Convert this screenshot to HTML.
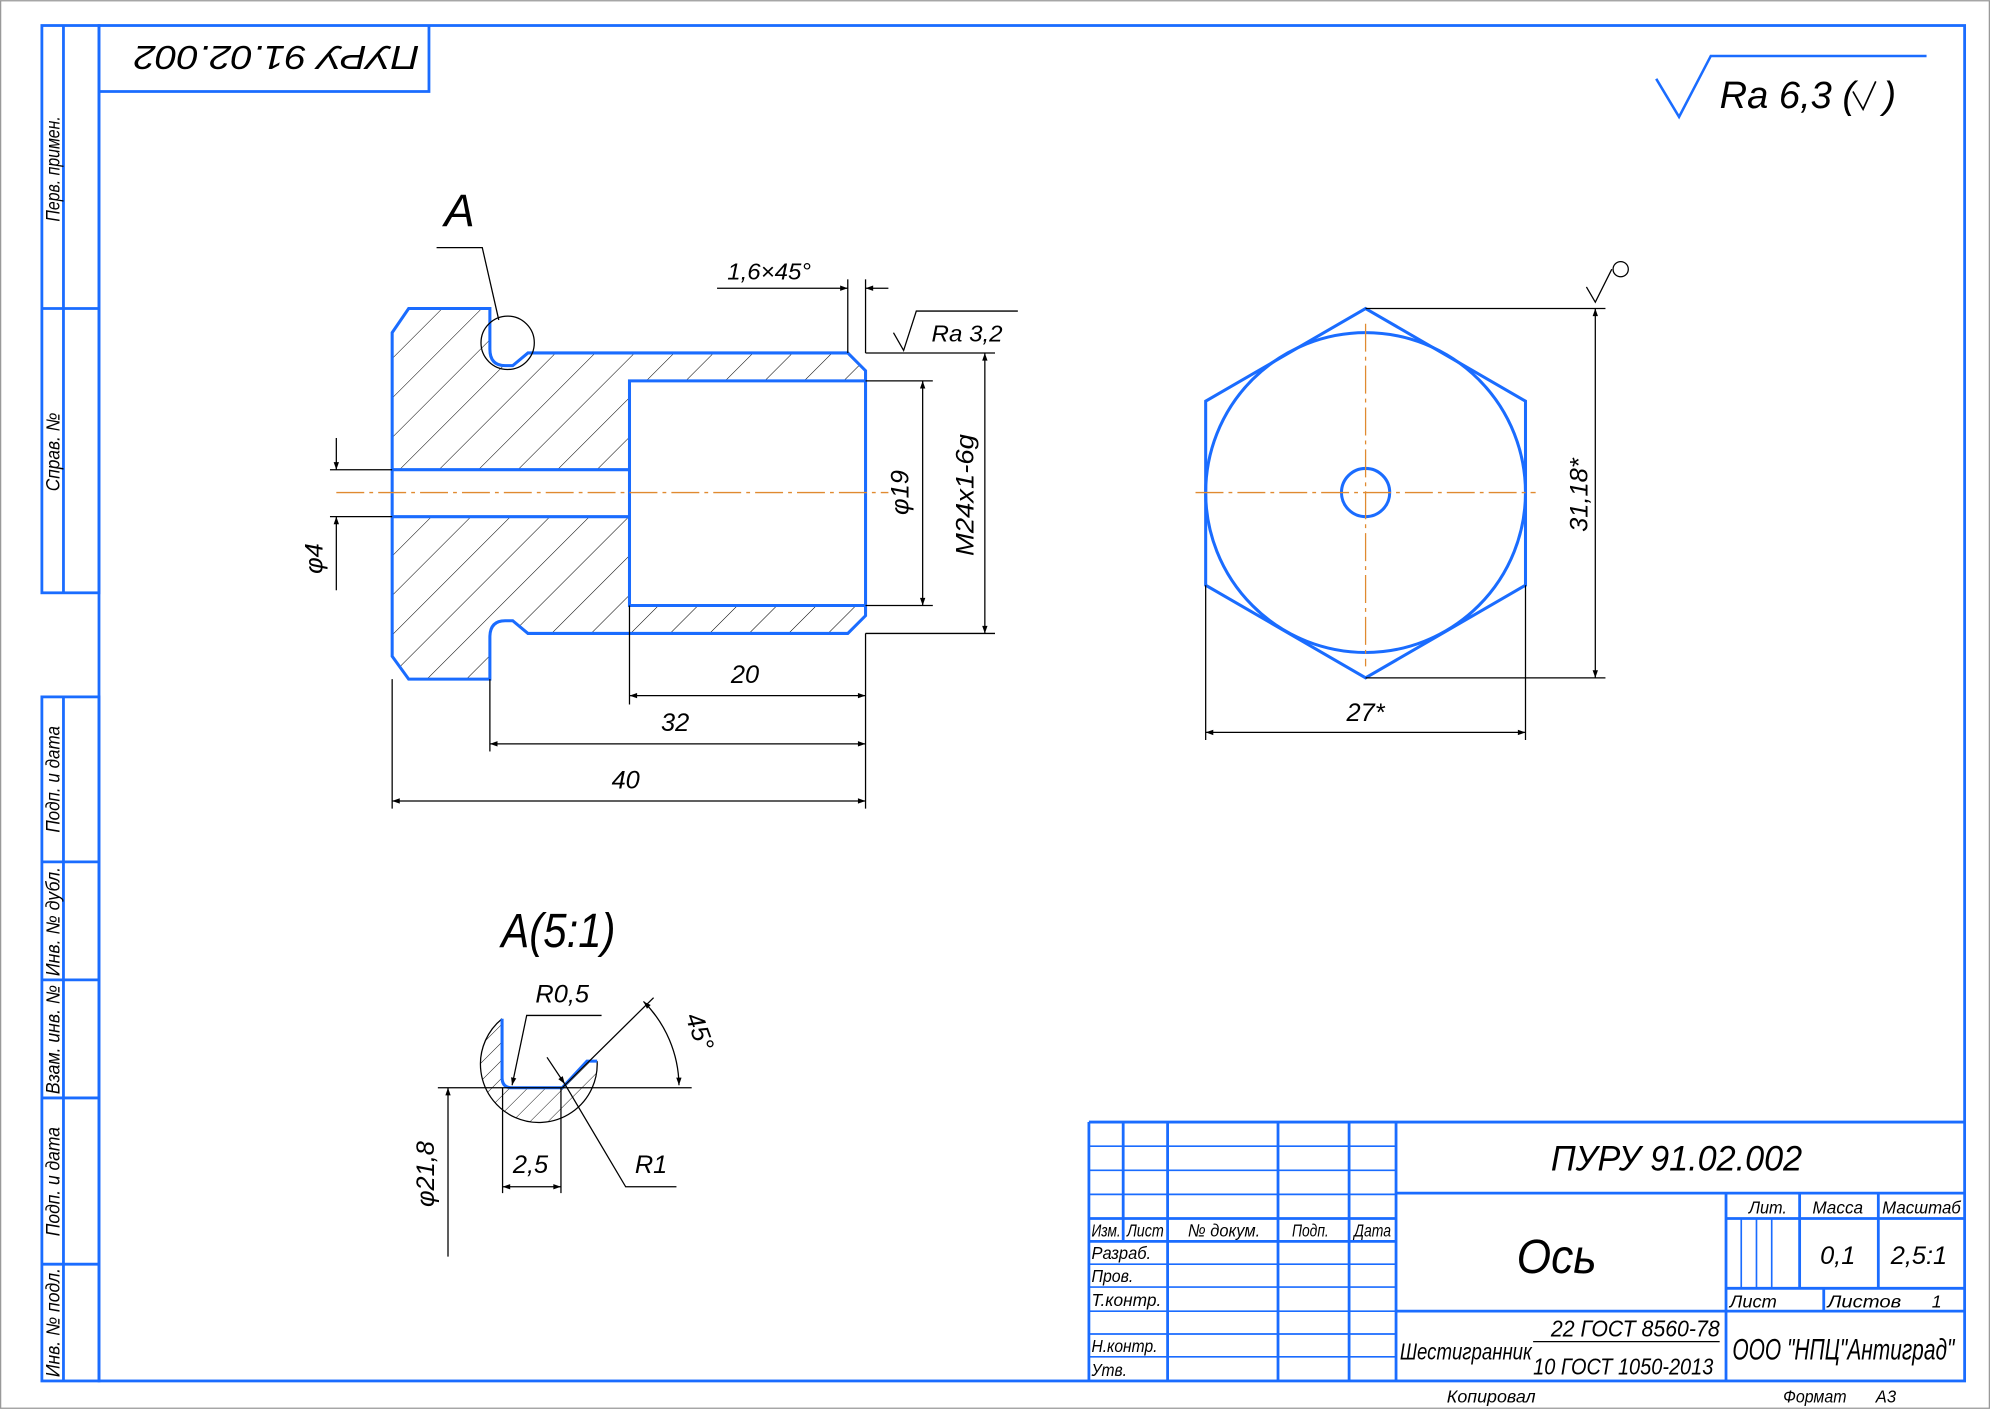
<!DOCTYPE html>
<html><head><meta charset="utf-8"><style>
html,body{margin:0;padding:0;background:#fff}
svg{display:block}
text{font-family:"Liberation Sans",sans-serif;font-style:italic;fill:#000}
</style></head><body>
<svg width="1990" height="1409" viewBox="0 0 1568 1110" xmlns="http://www.w3.org/2000/svg">
<defs>
<pattern id="h" patternUnits="userSpaceOnUse" width="22" height="22" patternTransform="rotate(45)">
<line x1="0" y1="0" x2="0" y2="22" stroke="#000" stroke-width="0.8"/>
</pattern>
<pattern id="h2" patternUnits="userSpaceOnUse" width="10" height="10" patternTransform="rotate(45)">
<line x1="0" y1="0" x2="0" y2="10" stroke="#000" stroke-width="0.7"/>
</pattern>
<marker id="a" viewBox="0 0 10 10" refX="10" refY="5" markerWidth="10" markerHeight="6" orient="auto-start-reverse" markerUnits="userSpaceOnUse"><path d="M0,1.5 L10,5 L0,8.5 z" fill="#000"/></marker>
</defs>
<rect x="0.5" y="0.5" width="1567" height="1109" fill="none" stroke="#999" stroke-width="1"/>
<g stroke="#1a6cff" stroke-width="2.2" fill="none">
<rect x="78" y="20" width="1470" height="1068"/>
<rect x="33" y="20" width="45" height="447"/>
<line x1="50" y1="20" x2="50" y2="467"/><line x1="33" y1="243" x2="78" y2="243"/>
<rect x="33" y="549" width="45" height="539"/>
<line x1="50" y1="549" x2="50" y2="1088"/>
<line x1="33" y1="679" x2="78" y2="679"/><line x1="33" y1="772" x2="78" y2="772"/><line x1="33" y1="865" x2="78" y2="865"/><line x1="33" y1="996" x2="78" y2="996"/>
<polyline points="78,72 338,72 338,20"/>
</g>
<g font-size="15" lengthAdjust="spacingAndGlyphs">
<text transform="translate(47,133) rotate(-90)" text-anchor="middle" textLength="83" lengthAdjust="spacingAndGlyphs">Перв. примен.</text>
<text transform="translate(47,356) rotate(-90)" text-anchor="middle" textLength="62" lengthAdjust="spacingAndGlyphs">Справ. №</text>
<text transform="translate(47,614) rotate(-90)" text-anchor="middle" textLength="84" lengthAdjust="spacingAndGlyphs">Подп. и дата</text>
<text transform="translate(47,726) rotate(-90)" text-anchor="middle" textLength="86" lengthAdjust="spacingAndGlyphs">Инв. № дубл.</text>
<text transform="translate(47,819) rotate(-90)" text-anchor="middle" textLength="86" lengthAdjust="spacingAndGlyphs">Взам. инв. №</text>
<text transform="translate(47,931) rotate(-90)" text-anchor="middle" textLength="86" lengthAdjust="spacingAndGlyphs">Подп. и дата</text>
<text transform="translate(47,1042) rotate(-90)" text-anchor="middle" textLength="86" lengthAdjust="spacingAndGlyphs">Инв. № подл.</text>
</g>
<text transform="translate(218,36) rotate(180)" text-anchor="middle" font-size="26" textLength="225" lengthAdjust="spacingAndGlyphs">ПУРУ 91.02.002</text>
<!-- top roughness -->
<polyline points="1305,62 1323,92 1348,44 1518,44" fill="none" stroke="#1a6cff" stroke-width="2"/>
<text x="1355" y="85" font-size="30">Ra 6,3 (</text>
<polyline points="1460,72 1468,86 1478,64" fill="none" stroke="#000" stroke-width="1.3"/>
<text x="1484" y="85" font-size="30">)</text>

<!-- main view -->
<path fill="url(#h)" fill-rule="evenodd" stroke="none" d="M309,262 L322,243 L386,243 L386,275 Q386,288 398,288 L404,288 L416,278 L668,278 L682,292 L682,485 L668,499 L416,499 L404,489 L398,489 Q386,489 386,502 L386,535 L322,535 L309,517 Z"/>
<rect x="496" y="300" width="186" height="177" fill="#fff"/>
<rect x="309" y="370" width="187" height="37" fill="#fff"/>
<g stroke="#1a6cff" stroke-width="2.4" fill="none">
<path d="M309,262 L322,243 L386,243 L386,275 Q386,288 398,288 L404,288 L416,278 L668,278 L682,292 L682,485 L668,499 L416,499 L404,489 L398,489 Q386,489 386,502 L386,535 L322,535 L309,517 Z"/>
<polyline points="682,300 496,300 496,477 682,477"/>
<line x1="309" y1="370" x2="496" y2="370"/><line x1="309" y1="407" x2="496" y2="407"/>
</g>
<line x1="265" y1="388" x2="700" y2="388" stroke="#e08a30" stroke-width="1" stroke-dasharray="22,4,3,4"/>
<circle cx="400" cy="270" r="21" fill="none" stroke="#000" stroke-width="1"/>
<polyline points="344,195 380,195 393,252" fill="none" stroke="#000" stroke-width="1"/>
<text x="362" y="178" font-size="36" font-style="normal" text-anchor="middle">A</text>
<g stroke="#000" stroke-width="1" fill="none">
<line x1="260" y1="370" x2="309" y2="370"/><line x1="260" y1="407" x2="309" y2="407"/>
<line x1="265" y1="345" x2="265" y2="370" marker-end="url(#a)"/>
<line x1="265" y1="465" x2="265" y2="407" marker-end="url(#a)"/>
<line x1="682" y1="300" x2="735" y2="300"/><line x1="682" y1="477" x2="735" y2="477"/>
<line x1="727" y1="300" x2="727" y2="477" marker-start="url(#a)" marker-end="url(#a)"/>
<line x1="682" y1="278" x2="784" y2="278"/><line x1="682" y1="499" x2="784" y2="499"/>
<line x1="776" y1="278" x2="776" y2="499" marker-start="url(#a)" marker-end="url(#a)"/>
<line x1="496" y1="477" x2="496" y2="555"/><line x1="386" y1="535" x2="386" y2="592"/>
<line x1="309" y1="535" x2="309" y2="637"/><line x1="682" y1="499" x2="682" y2="637"/>
<line x1="496" y1="548" x2="682" y2="548" marker-start="url(#a)" marker-end="url(#a)"/>
<line x1="386" y1="586" x2="682" y2="586" marker-start="url(#a)" marker-end="url(#a)"/>
<line x1="309" y1="631" x2="682" y2="631" marker-start="url(#a)" marker-end="url(#a)"/>
<line x1="668" y1="220" x2="668" y2="278"/><line x1="682" y1="220" x2="682" y2="278"/>
<line x1="565" y1="227" x2="668" y2="227" marker-end="url(#a)"/>
<line x1="700" y1="227" x2="682" y2="227" marker-end="url(#a)"/>
<polyline points="704,262 712,276 722,245 802,245"/>
</g>
<text x="573" y="220" font-size="18" textLength="66" lengthAdjust="spacingAndGlyphs">1,6×45°</text>
<text x="734" y="269" font-size="18" textLength="56" lengthAdjust="spacingAndGlyphs">Ra 3,2</text>
<text transform="translate(254,440) rotate(-90)" text-anchor="middle" font-size="20">φ4</text>
<text transform="translate(716,388) rotate(-90)" text-anchor="middle" font-size="20">φ19</text>
<text transform="translate(767,390) rotate(-90)" text-anchor="middle" font-size="20" textLength="96" lengthAdjust="spacingAndGlyphs">M24x1-6g</text>
<text x="587" y="538" text-anchor="middle" font-size="20">20</text>
<text x="532" y="576" text-anchor="middle" font-size="20">32</text>
<text x="493" y="621" text-anchor="middle" font-size="20">40</text>

<!-- hex view -->
<g stroke="#1a6cff" stroke-width="2.4" fill="none">
<polygon points="1076,243 1202,316 1202,461 1076,534 950,461 950,316"/>
<circle cx="1076" cy="388" r="126"/>
<circle cx="1076" cy="388" r="19"/>
</g>
<g stroke="#e08a30" stroke-width="1" stroke-dasharray="22,4,3,4">
<line x1="942" y1="388" x2="1210" y2="388"/><line x1="1076" y1="255" x2="1076" y2="525"/>
</g>
<g stroke="#000" stroke-width="1" fill="none">
<line x1="1076" y1="243" x2="1265" y2="243"/><line x1="1076" y1="534" x2="1265" y2="534"/>
<line x1="1257" y1="243" x2="1257" y2="534" marker-start="url(#a)" marker-end="url(#a)"/>
<line x1="950" y1="461" x2="950" y2="583"/><line x1="1202" y1="461" x2="1202" y2="583"/>
<line x1="950" y1="577" x2="1202" y2="577" marker-start="url(#a)" marker-end="url(#a)"/>
<polyline points="1250,226 1257,238 1270,212"/>
<circle cx="1277" cy="212" r="6"/>
</g>
<text transform="translate(1251,390) rotate(-90)" text-anchor="middle" font-size="20" textLength="58" lengthAdjust="spacingAndGlyphs">31,18*</text>
<text x="1076" y="568" text-anchor="middle" font-size="20">27*</text>

<!-- detail A -->
<text x="440" y="746" text-anchor="middle" font-size="38" font-style="normal" textLength="90" lengthAdjust="spacingAndGlyphs">A(5:1)</text>
<path d="M395.6,802.6 L395.6,849 Q395.6,857 403.5,857 L443,857 L462.5,836 L470.5,836 A46,46 0 1 1 395.6,802.6 Z" fill="url(#h2)" stroke="none"/>
<path d="M470.5,836 A46,46 0 1 1 395.6,802.6" fill="none" stroke="#000" stroke-width="1"/>
<path d="M395.6,802.6 L395.6,849 Q395.6,857 403.5,857 L443,857 L462.5,836 L470.5,836" fill="none" stroke="#1a6cff" stroke-width="2.4"/>
<g stroke="#000" stroke-width="1" fill="none">
<polyline points="474,800 415,800 403.5,855" marker-end="url(#a)"/>
<line x1="345" y1="857" x2="545" y2="857"/>
<line x1="443" y1="857" x2="515" y2="786"/>
<path d="M507,789 A95,95 0 0 1 535,855" marker-start="url(#a)" marker-end="url(#a)"/>
<line x1="353" y1="990" x2="353" y2="857" marker-end="url(#a)"/>
<line x1="396" y1="857" x2="396" y2="940"/><line x1="442" y1="857" x2="442" y2="940"/>
<line x1="396" y1="935" x2="442" y2="935" marker-start="url(#a)" marker-end="url(#a)"/>
<line x1="431" y1="833" x2="445" y2="854" marker-end="url(#a)"/>
<polyline points="445,854 493,935 533,935"/>
</g>
<text x="443" y="790" text-anchor="middle" font-size="20">R0,5</text>
<text transform="translate(545,815) rotate(70)" text-anchor="middle" font-size="20">45°</text>
<text transform="translate(342,925) rotate(-90)" text-anchor="middle" font-size="20">φ21,8</text>
<text x="418" y="924" text-anchor="middle" font-size="20">2,5</text>
<text x="513" y="924" text-anchor="middle" font-size="20">R1</text>

<!-- title block -->
<g stroke="#1a6cff" fill="none">
<g stroke-width="2.2">
<line x1="858" y1="884" x2="1548" y2="884"/>
<line x1="858" y1="884" x2="858" y2="1088"/>
<line x1="885" y1="884" x2="885" y2="978"/><line x1="920" y1="884" x2="920" y2="1088"/>
<line x1="1007" y1="884" x2="1007" y2="1088"/><line x1="1063" y1="884" x2="1063" y2="1088"/>
<line x1="1100" y1="884" x2="1100" y2="1088"/>
<line x1="858" y1="960" x2="1100" y2="960"/><line x1="858" y1="978" x2="1100" y2="978"/>
<line x1="1100" y1="940" x2="1548" y2="940"/><line x1="1100" y1="1033" x2="1548" y2="1033"/>
<line x1="1360" y1="940" x2="1360" y2="1088"/>
<line x1="1418" y1="940" x2="1418" y2="1015"/><line x1="1480" y1="940" x2="1480" y2="1015"/>
<line x1="1360" y1="960" x2="1548" y2="960"/><line x1="1360" y1="1015" x2="1548" y2="1015"/>
<line x1="1437" y1="1015" x2="1437" y2="1033"/>
</g>
<g stroke-width="1.3">
<line x1="858" y1="903" x2="1100" y2="903"/><line x1="858" y1="922" x2="1100" y2="922"/><line x1="858" y1="941" x2="1100" y2="941"/>
<line x1="858" y1="996" x2="1100" y2="996"/><line x1="858" y1="1014" x2="1100" y2="1014"/><line x1="858" y1="1033" x2="1100" y2="1033"/>
<line x1="858" y1="1051" x2="1100" y2="1051"/><line x1="858" y1="1069" x2="1100" y2="1069"/>
<line x1="1372" y1="960" x2="1372" y2="1015"/><line x1="1384" y1="960" x2="1384" y2="1015"/><line x1="1396" y1="960" x2="1396" y2="1015"/>
</g>
</g>
<line x1="1208" y1="1057" x2="1355" y2="1057" stroke="#000" stroke-width="1"/>
<g font-size="14">
<text x="860" y="974" textLength="23" lengthAdjust="spacingAndGlyphs">Изм.</text>
<text x="888" y="974" textLength="29" lengthAdjust="spacingAndGlyphs">Лист</text>
<text x="936" y="974" textLength="57" lengthAdjust="spacingAndGlyphs">№ докум.</text>
<text x="1018" y="974" textLength="29" lengthAdjust="spacingAndGlyphs">Подп.</text>
<text x="1067" y="974" textLength="29" lengthAdjust="spacingAndGlyphs">Дата</text>
<text x="860" y="992" textLength="47" lengthAdjust="spacingAndGlyphs">Разраб.</text>
<text x="860" y="1010" textLength="33" lengthAdjust="spacingAndGlyphs">Пров.</text>
<text x="860" y="1029" textLength="55" lengthAdjust="spacingAndGlyphs">Т.контр.</text>
<text x="860" y="1065" textLength="52" lengthAdjust="spacingAndGlyphs">Н.контр.</text>
<text x="860" y="1084" textLength="28" lengthAdjust="spacingAndGlyphs">Утв.</text>
<text x="1378" y="956" textLength="30" lengthAdjust="spacingAndGlyphs">Лит.</text>
<text x="1428" y="956" textLength="40" lengthAdjust="spacingAndGlyphs">Масса</text>
<text x="1483" y="956" textLength="62" lengthAdjust="spacingAndGlyphs">Масштаб</text>
<text x="1363" y="1030" textLength="37" lengthAdjust="spacingAndGlyphs">Лист</text>
<text x="1440" y="1030" textLength="58" lengthAdjust="spacingAndGlyphs">Листов</text>
<text x="1526" y="1030" text-anchor="middle">1</text>
<text x="1140" y="1105" textLength="70" lengthAdjust="spacingAndGlyphs">Копировал</text>
<text x="1405" y="1105" textLength="50" lengthAdjust="spacingAndGlyphs">Формат</text>
<text x="1478" y="1105" textLength="16" lengthAdjust="spacingAndGlyphs">А3</text>
</g>
<text x="1222" y="922" font-size="28" textLength="198" lengthAdjust="spacingAndGlyphs">ПУРУ 91.02.002</text>
<text x="1195" y="1003" font-size="38" textLength="63" lengthAdjust="spacingAndGlyphs">Ось</text>
<text x="1448" y="996" text-anchor="middle" font-size="20">0,1</text>
<text x="1512" y="996" text-anchor="middle" font-size="20">2,5:1</text>
<text x="1365" y="1071" font-size="23" textLength="175" lengthAdjust="spacingAndGlyphs">ООО "НПЦ"Антиград"</text>
<text x="1103" y="1071" font-size="18" textLength="104" lengthAdjust="spacingAndGlyphs">Шестигранник</text>
<text x="1222" y="1053" font-size="18" textLength="133" lengthAdjust="spacingAndGlyphs">22 ГОСТ 8560-78</text>
<text x="1208" y="1083" font-size="18" textLength="142" lengthAdjust="spacingAndGlyphs">10 ГОСТ 1050-2013</text>
</svg>
</body></html>
